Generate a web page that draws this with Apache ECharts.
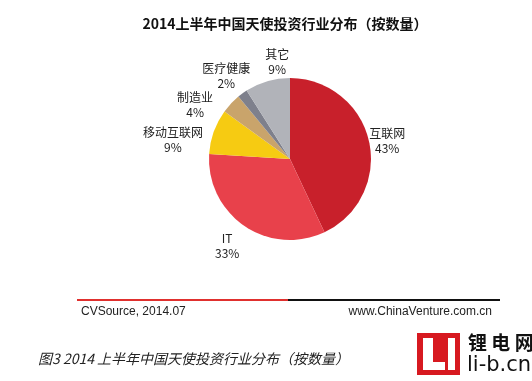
<!DOCTYPE html>
<html><head><meta charset="utf-8">
<script src="https://cdn.jsdelivr.net/npm/echarts@6/dist/echarts.min.js"></script>
<style>html,body{margin:0;padding:0;background:#fff}#c{width:532px;height:381px}</style>
</head><body><div id="c"></div>
<script>
const categories = ['互联网', 'IT', '移动互联网', '制造业', '医疗健康', '其它'];
const values = [43, 33, 9, 4, 2, 9];
const colors = ['#C8202B', '#E8414B', '#F6CB12', '#C9A46B', '#7E808C', '#B1B3B9'];
const titleText = '2014上半年中国天使投资行业分布（按数量）';
const sourceText = 'CVSource, 2014.07';
const siteText = 'www.ChinaVenture.com.cn';
const captionText = '图3 2014 上半年中国天使投资行业分布（按数量）';

const CX = 290, CY = 159, R = 81;
// small manual label nudges (label spreading as in the original)
const labelNudge = [[-10, 6], [-2, -3], [-2, 22], [-13, 23], [4, 10], [17, 5]];

const total = values.reduce((a, b) => a + b, 0);
function midAngle(i) {
  let before = 0;
  for (let k = 0; k < i; k++) before += values[k];
  return (before + values[i] / 2) / total * Math.PI * 2;
}

const chart = echarts.init(document.getElementById('c'), null, {renderer: 'canvas'});
const cjk = '"Noto Sans CJK SC", sans-serif';
chart.setOption({
  animation: false,
  title: {
    text: titleText, left: 280, top: 12, textAlign: 'center',
    textStyle: {fontFamily: cjk, fontSize: 14, fontWeight: 'bold', color: '#111'}
  },
  series: [{
    type: 'pie',
    center: [CX, CY],
    radius: R,
    startAngle: 90,
    clockwise: true,
    data: categories.map((n, i) => ({name: n, value: values[i], itemStyle: {color: colors[i]}})),
    label: {
      show: true, position: 'outside', formatter: '{b}\n{c}%',
      fontFamily: cjk, fontSize: 12, color: '#222', lineHeight: 15
    },
    labelLine: {show: false, length: 4, length2: 0},
    labelLayout: function (p) {
      const i = p.dataIndex;
      const a = midAngle(i);
      const s = Math.sin(a), c = Math.cos(a);
      const w = p.labelRect.width, h = p.labelRect.height;
      const d = R + 8 + w / 2 * Math.abs(s) + h / 2 * Math.abs(c);
      return {
        x: CX + d * s + labelNudge[i][0],
        y: CY - d * c + labelNudge[i][1],
        align: 'center', verticalAlign: 'middle'
      };
    }
  }],
  graphic: [
    {type: 'line', shape: {x1: 77, y1: 300, x2: 288, y2: 300}, style: {stroke: '#E0302E', lineWidth: 2}},
    {type: 'line', shape: {x1: 288, y1: 300, x2: 500, y2: 300}, style: {stroke: '#111', lineWidth: 2}},
    {type: 'text', left: 81, top: 306, style: {text: sourceText, font: '12px "Liberation Sans", Arial', fill: '#222'}},
    {type: 'text', right: 40, top: 306, style: {text: siteText, font: '12px "Liberation Sans", Arial', fill: '#222'}},
    {type: 'text', left: 38, top: 352, style: {text: captionText, font: 'italic 14px ' + cjk, fill: '#222'}},
    {type: 'rect', shape: {x: 417, y: 333, width: 43, height: 42}, style: {fill: '#D71920'}},
    {type: 'rect', shape: {x: 423, y: 338, width: 10, height: 32}, style: {fill: '#fff'}},
    {type: 'rect', shape: {x: 423, y: 362, width: 22, height: 8}, style: {fill: '#fff'}},
    {type: 'rect', shape: {x: 448, y: 338, width: 7, height: 32}, style: {fill: '#fff'}},
    {type: 'text', left: 468, top: 333, style: {text: '锂 电 网', font: 'bold 19px ' + cjk, fill: '#111'}},
    {type: 'text', left: 467, top: 355, style: {text: 'li-b.cn', font: '21px "DejaVu Sans", sans-serif', fill: '#111'}}
  ]
});
</script></body></html>
